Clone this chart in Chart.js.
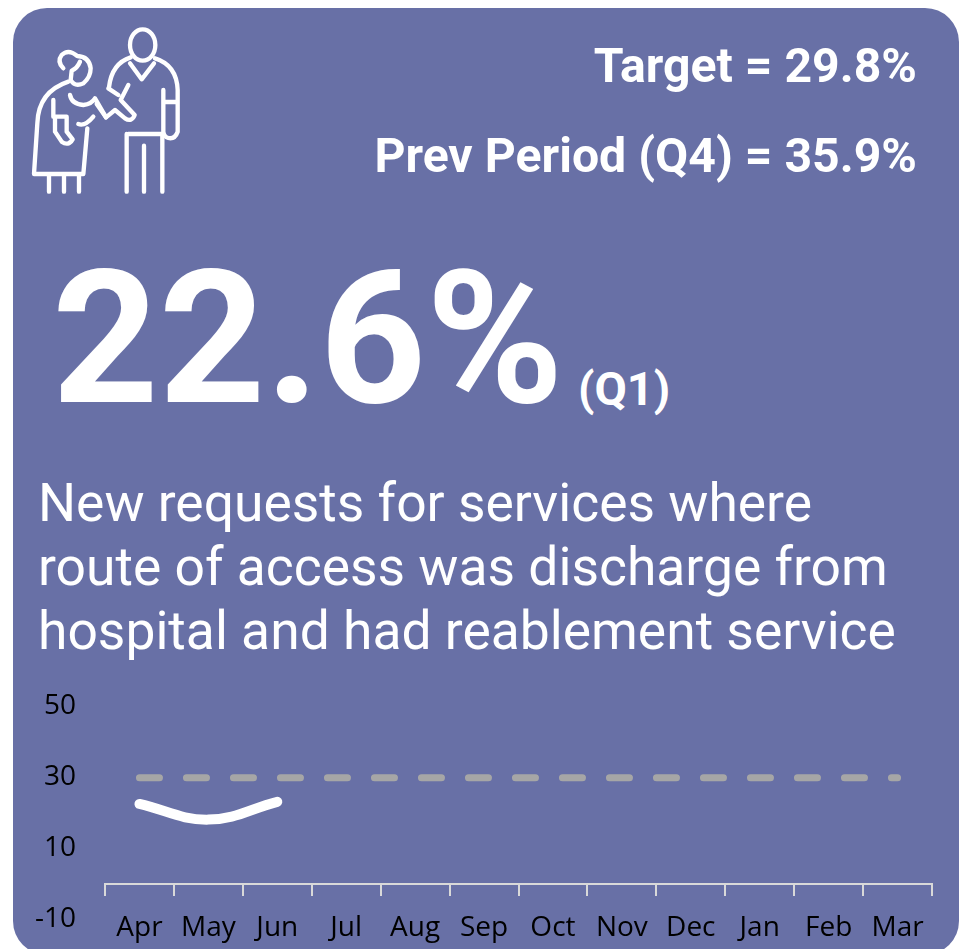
<!DOCTYPE html>
<html>
<head>
<meta charset="utf-8">
<script src="https://cdn.jsdelivr.net/npm/chart.js@4"></script>
<style>
    html, body { margin:0; padding:0; background:#fff; width:964px; height:949px; overflow:hidden; }
    #card { position:absolute; left:13px; top:8px; width:946px; height:947px; background:#6870a6; border-radius:34px; }
    .txt { position:absolute; color:#fff; font-family:Roboto, sans-serif; white-space:nowrap; line-height:1; }
    #icon { position:absolute; left:0; top:0; width:220px; height:210px; }
    #chart-wrap { position:absolute; left:0; top:660px; width:964px; height:305px; }
</style>
</head>
<body>
<div id="card"></div>

<!-- carer icon -->
<svg id="icon" viewBox="0 0 660 630" fill="none" stroke="#fff" stroke-width="13" stroke-linecap="round" stroke-linejoin="round">
    <!-- man -->
    <ellipse cx="428" cy="135" rx="38" ry="47"/>
    <path d="M392 172 Q335 190 327 262 M390 190 L425 238 L462 190 M465 175 Q530 195 533 270 L533 395 Q525 418 505 414 Q492 410 490 395 L490 270 M492 306 L530 306"/>
    <path d="M385 402 L490 402 M380 402 L380 575 M432 437 L432 575 M487 402 L487 575 M385 255 L362 300 L404 345 Q395 368 375 355 L345 330 L318 352 L290 312 M325 265 L355 285"/>
    <!-- woman -->
    <path d="M190 205 Q170 185 185 165 Q205 145 232 168 Q268 170 272 205 Q272 232 250 250 Q225 262 212 240 L215 212 Q232 205 240 185"/>
    <path d="M205 245 Q115 275 112 370 L102 522 L250 522 L262 385 M210 285 Q215 312 250 315 Q275 312 285 295 L318 352 M160 300 L160 350 L200 350 L200 395 L218 418 Q205 440 185 425 L165 395 L165 350 M235 372 Q255 380 280 350"/>
    <path d="M147 525 L147 575 M192 525 L192 575 M237 525 L237 575"/>
</svg>

<div class="txt" style="right:47px; top:42px; font-size:48.2px; font-weight:700;">Target = 29.8%</div>
<div class="txt" style="right:47px; top:132px; font-size:48.2px; font-weight:700;">Prev Period (Q4) = 35.9%</div>
<div class="txt" style="left:52px; top:245px; font-size:186px; font-weight:700;">22.6%</div>
<div class="txt" style="left:578px; top:365px; font-size:47px; font-weight:700;">(Q1)</div>
<div class="txt" style="left:38px; top:476px; font-size:53.4px;">New requests for services where</div>
<div class="txt" style="left:38px; top:540px; font-size:53.4px;">route of access was discharge from</div>
<div class="txt" style="left:38px; top:604px; font-size:53.4px;">hospital and had reablement service</div>

<div id="chart-wrap"><canvas id="chart-reablement" width="964" height="305"></canvas></div>

<script>
const months = ['Apr', 'May', 'Jun', 'Jul', 'Aug', 'Sep', 'Oct', 'Nov', 'Dec', 'Jan', 'Feb', 'Mar'];
const actualValues = [22.4, 18, 23];
const targetValues = [29.8, 29.8, 29.8, 29.8, 29.8, 29.8, 29.8, 29.8, 29.8, 29.8, 29.8, 29.8];

const axisFont = { family: '"Open Sans", sans-serif', size: 28 };

new Chart(document.getElementById('chart-reablement'), {
    type: 'line',
    data: {
        labels: months,
        datasets: [
            {
                label: 'Target',
                data: targetValues,
                borderColor: '#a6a6a6',
                borderWidth: 7,
                borderDash: [20, 27],
                borderCapStyle: 'round',
                pointRadius: 0,
                fill: false
            },
            {
                label: 'Actual',
                data: actualValues,
                borderColor: '#ffffff',
                borderWidth: 10,
                borderCapStyle: 'round',
                tension: 0.4,
                pointRadius: 0,
                fill: false
            }
        ]
    },
    options: {
        responsive: false,
        animation: false,
        // y tick padding also insets the scale vertically (45.8px), so the canvas starts higher up
        layout: { autoPadding: false, padding: { top: 0, bottom: 0, right: 32, left: 0 } },
        plugins: { legend: { display: false }, tooltip: { enabled: false } },
        scales: {
            x: {
                position: { y: 0 },
                offset: true,
                afterFit(scale) { scale.height = 0; },
                border: { color: '#d9d9d9', width: 2 },
                grid: { offset: true, drawOnChartArea: false, drawTicks: true, tickLength: 11, color: '#d9d9d9', lineWidth: 2 },
                ticks: { color: '#000', font: axisFont, padding: 17, maxRotation: 0, autoSkip: false }
            },
            y: {
                min: -10,
                max: 50,
                afterFit(scale) { scale.width = 105; },
                border: { display: false },
                grid: { display: false, drawTicks: false },
                ticks: { stepSize: 20, color: '#000', font: axisFont, padding: 29 }
            }
        }
    }
});
</script>
</body>
</html>
